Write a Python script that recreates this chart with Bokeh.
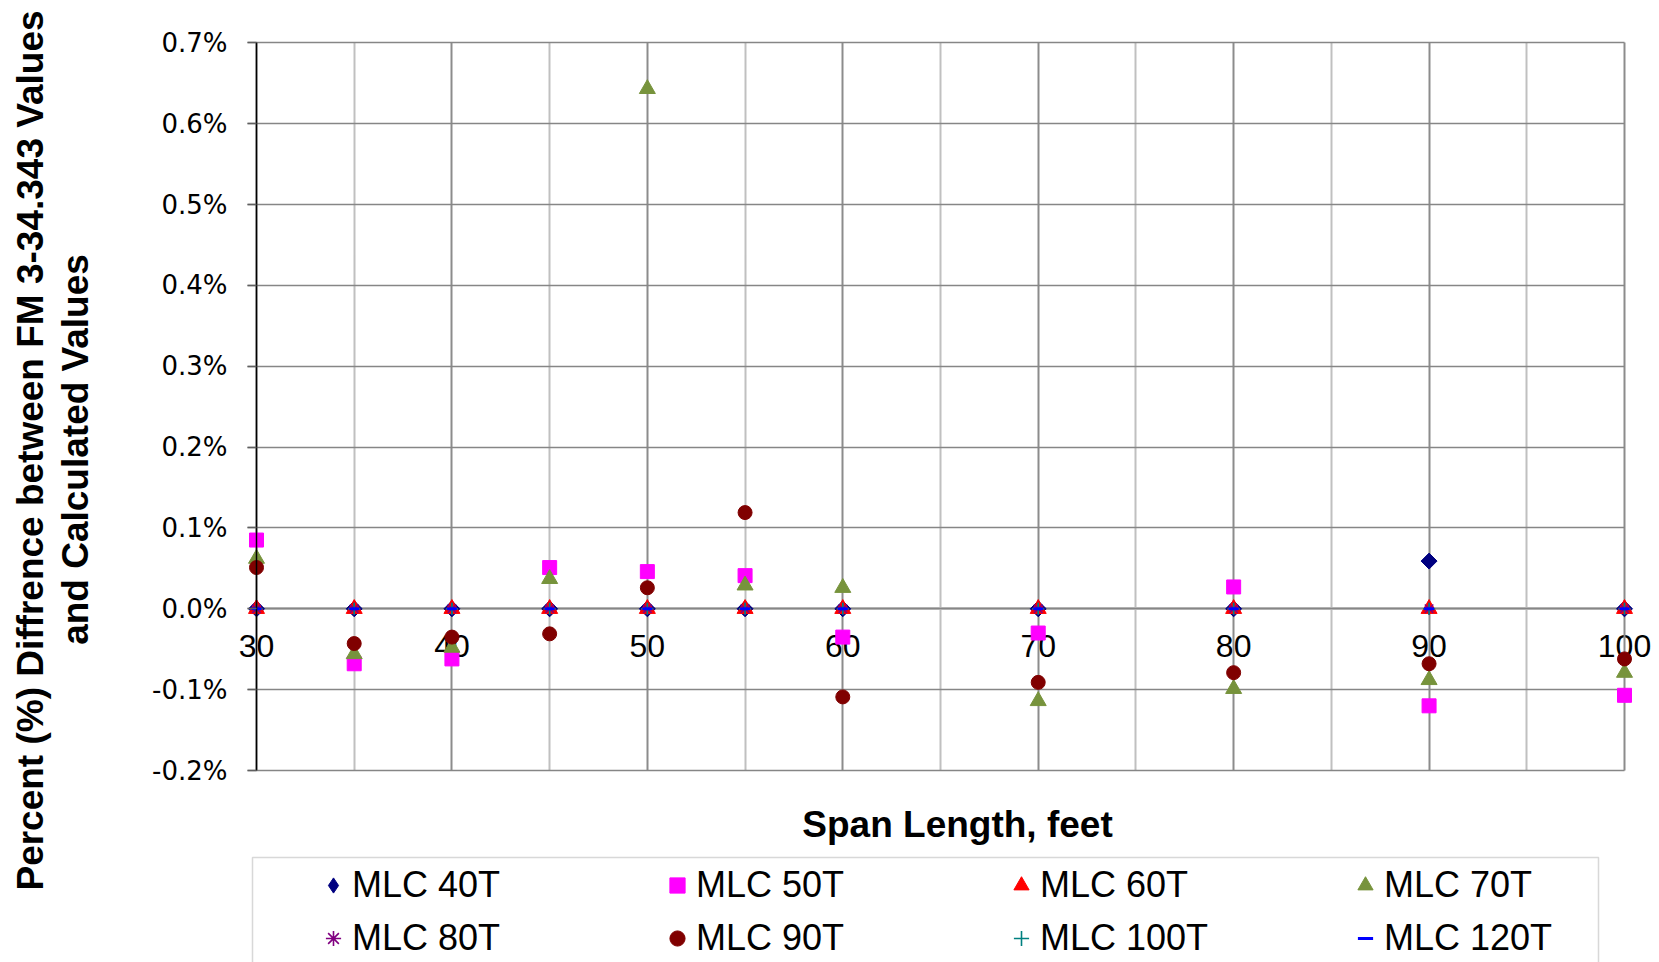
import math
from bokeh.plotting import figure
from bokeh.models import (Range1d, FixedTicker, PrintfTickFormatter, Legend,
                          LegendItem, Label, Grid, BoxAnnotation, ColumnDataSource)
from bokeh.embed import file_html
from bokeh.resources import INLINE

# ---------------- data (percent difference) ----------------
span_ft = [30, 35, 40, 45, 50, 55, 60, 70, 80, 90, 100]
mlc_40t = [0.0, 0.0, 0.0, 0.0, 0.0, 0.0, 0.0, 0.0, 0.0, 0.059, 0.0]
mlc_50t = [0.085, -0.068, -0.062, 0.051, 0.046, 0.041, -0.035, -0.030, 0.027, -0.120, -0.107]
mlc_60t = [0.0, 0.0, 0.0, 0.0, 0.0, 0.0, 0.0, 0.0, 0.0, 0.0, 0.0]
mlc_70t = [0.062, -0.056, -0.048, 0.037, 0.643, 0.029, 0.026, -0.114, -0.099, -0.088, -0.079]
mlc_80t = [0.0, 0.0, 0.0, 0.0, 0.0, 0.0, 0.0, 0.0, 0.0, 0.0, 0.0]
mlc_90t = [0.051, -0.043, -0.035, -0.031, 0.026, 0.119, -0.109, -0.091, -0.079, -0.068, -0.062]
mlc_100t = [0.0, 0.0, 0.0, 0.0, 0.0, 0.0, 0.0, 0.0, 0.0, 0.0, 0.0]
mlc_120t = [0.0, 0.0, 0.0, 0.0, 0.0, 0.0, 0.0, 0.0, 0.0, 0.0, 0.0]

series_names = ["MLC 40T", "MLC 50T", "MLC 60T", "MLC 70T",
                "MLC 80T", "MLC 90T", "MLC 100T", "MLC 120T"]
series_values = [mlc_40t, mlc_50t, mlc_60t, mlc_70t,
                 mlc_80t, mlc_90t, mlc_100t, mlc_120t]

x_ticks = [30, 40, 50, 60, 70, 80, 90, 100]
x_minor_ticks = [35, 45, 55, 65, 75, 85, 95]
y_ticks = [-0.2, -0.1, 0.0, 0.1, 0.2, 0.3, 0.4, 0.5, 0.6, 0.7]

x_title = "Span Length, feet"
y_title_1 = "Percent (%) Diffrence between FM 3-34.343 Values"
y_title_2 = "and Calculated Values"

# ---------------- styles ----------------
marker_styles = [
    dict(marker="square", angle=math.pi / 4, size=11.3, fill_color="#000080", line_color="#000080"),
    dict(marker="square", size=14, fill_color="#FF00FF", line_color="#FF00FF"),
    dict(marker="triangle", size=16, fill_color="#FF0000", line_color="#FF0000"),
    dict(marker="triangle", size=16, fill_color="#77933C", line_color="#77933C"),
    dict(marker="asterisk", size=12, line_color="#800080", line_width=1.6),
    dict(marker="circle", size=14, fill_color="#800000", line_color="#800000"),
    dict(marker="cross", size=12, line_color="#008080", line_width=1.6),
    dict(marker="dash", size=10, line_color="#0000FF", line_width=3),
]

W, H = 1659, 962
# plot area: x=30 -> 256px, x=100 -> 1624px ; y=0.7 -> 42.3px, y=-0.2 -> 770px
xpx = (1624 - 256) / (x_ticks[-1] - x_ticks[0])
ypx = (770 - 42.3) / (y_ticks[-1] - y_ticks[0])
x0 = x_ticks[0] - 256 / xpx
y1 = y_ticks[-1] + 42.3 / ypx

p = figure(width=W, height=H, output_backend="svg", toolbar_location=None,
           title=None,
           x_range=Range1d(x0, x0 + W / xpx), y_range=Range1d(y1 - H / ypx, y1),
           min_border=0, min_border_left=0, min_border_right=0,
           min_border_top=0, min_border_bottom=0)
p.outline_line_color = None
p.background_fill_color = "white"
p.border_fill_color = "white"

# ---------------- grids ----------------
xt = FixedTicker(ticks=x_ticks, minor_ticks=x_minor_ticks)
yt = FixedTicker(ticks=y_ticks, minor_ticks=[])
tick_len = 9 / xpx
has_cross = "cross_bounds" in Grid.properties()
if has_cross:
    p.xgrid.ticker = xt
    p.ygrid.ticker = yt
    p.xgrid.grid_line_color = "#8c8c8c"
    p.xgrid.grid_line_width = 2
    p.xgrid.minor_grid_line_color = "#c0c0c0"
    p.xgrid.minor_grid_line_width = 2
    p.ygrid.grid_line_color = "#868686"
    p.ygrid.grid_line_width = 1.5
    p.xgrid.cross_bounds = (y_ticks[0], y_ticks[-1])
    p.ygrid.cross_bounds = (x_ticks[0] - tick_len, x_ticks[-1])
else:
    p.xgrid.visible = False
    p.ygrid.visible = False
    p.segment(x0=x_minor_ticks, x1=x_minor_ticks,
              y0=[y_ticks[0]] * len(x_minor_ticks), y1=[y_ticks[-1]] * len(x_minor_ticks),
              line_color="#c0c0c0", line_width=2)
    p.segment(x0=x_ticks, x1=x_ticks,
              y0=[y_ticks[0]] * len(x_ticks), y1=[y_ticks[-1]] * len(x_ticks),
              line_color="#8c8c8c", line_width=2)
    p.segment(x0=[x_ticks[0] - tick_len] * len(y_ticks), x1=[x_ticks[-1]] * len(y_ticks),
              y0=y_ticks, y1=y_ticks, line_color="#868686", line_width=1.5)

# ---------------- x axis on the zero line ----------------
xa = p.xaxis[0]
xa.ticker = xt
xa.fixed_location = 0
xa.bounds = (x_ticks[0], x_ticks[-1])
xa.axis_line_color = "black"
xa.axis_line_width = 1.5
xa.major_tick_out = 0
xa.major_tick_in = 0
xa.minor_tick_out = 0
xa.minor_tick_in = 0
xa.major_label_standoff = 26
xa.major_label_text_font = "Liberation Sans"
xa.major_label_text_font_size = "32px"
xa.major_label_text_color = "black"
xa.level = "underlay"

# ---------------- y axis at x = 30 ----------------
ya = p.yaxis[0]
ya.ticker = yt
ya.fixed_location = x_ticks[0]
ya.bounds = (y_ticks[0], y_ticks[-1])
ya.formatter = PrintfTickFormatter(format="%.1f%%")
ya.axis_line_color = "black"
ya.axis_line_width = 1.5
ya.major_tick_out = 9
ya.major_tick_in = 0
ya.major_tick_line_color = "#606060"
ya.major_tick_line_width = 1.5
ya.minor_tick_out = 0
ya.minor_tick_in = 0
ya.major_label_standoff = 20
ya.major_label_text_font = "DejaVu Sans"
ya.major_label_text_font_size = "26px"
ya.major_label_text_color = "black"

# ---------------- markers ----------------
sources = [ColumnDataSource(dict(x=span_ft, y=vals)) for vals in series_values]

# legend glyph for MLC 40T (legend glyphs are drawn unrotated); tiny, hidden
# underneath the rotated-square markers of the same series
legend_diamond = p.scatter("x", "y", source=sources[0], marker="diamond", size=3,
                           fill_color="#000080", line_color="#000080")

renderers = []
for src, st in zip(sources, marker_styles):
    r = p.scatter("x", "y", source=src, **st)
    renderers.append(r)
legend_renderers = [legend_diamond] + renderers[1:]

# ---------------- axis titles ----------------
tfont = dict(text_font="Liberation Sans", text_font_size="37px",
             text_font_style="bold", text_color="black",
             text_align="center", text_baseline="middle")
p.add_layout(Label(x=30, y=H - 450, x_units="screen", y_units="screen",
                   text=y_title_1, angle=math.pi / 2, **tfont))
p.add_layout(Label(x=75, y=H - 449, x_units="screen", y_units="screen",
                   text=y_title_2, angle=math.pi / 2, **tfont))
p.add_layout(Label(x=957, y=H - 824, x_units="screen", y_units="screen",
                   text=x_title, **tfont))

# ---------------- legend ----------------
legend_box = BoxAnnotation(left=252, right=1598, top=H - 857, bottom=-20,
                           left_units="screen", right_units="screen",
                           top_units="screen", bottom_units="screen",
                           fill_alpha=0, line_color="#7f7f7f", line_width=1.5)
p.add_layout(legend_box)

legend = Legend(
    items=[LegendItem(label=n, renderers=[r]) for n, r in zip(series_names, legend_renderers)],
    location=(314, 0.5), orientation="horizontal", ncols=4,
    padding=64, spacing=6, margin=0,
    glyph_width=38, glyph_height=38, label_standoff=0,
    label_width=300, label_height=47,
    label_text_font="Liberation Sans", label_text_font_size="36px",
    label_text_color="black",
    border_line_color=None, background_fill_alpha=0,
)
p.add_layout(legend)

open("out.html", "w").write(file_html(p, INLINE))
